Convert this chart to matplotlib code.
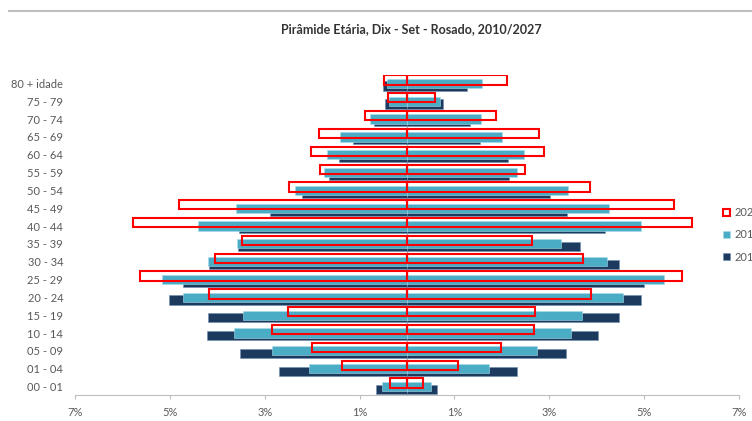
import numpy as np
import matplotlib.pyplot as plt
from matplotlib.lines import Line2D

plt.rcParams['font.family'] = ['Lato', 'DejaVu Sans']

# faixas etarias, de baixo para cima
faixas = ['00 - 01', '01 - 04', '05 - 09', '10 - 14', '15 - 19', '20 - 24',
          '25 - 29', '30 - 34', '35 - 39', '40 - 44', '45 - 49', '50 - 54',
          '55 - 59', '60 - 64', '65 - 69', '70 - 74', '75 - 79', '80 + idade']

# percentagens, lado esquerdo e lado direito
esq_2010 = [0.66, 2.70, 3.53, 4.22, 4.20, 5.02, 4.72, 4.17, 3.57, 3.54, 2.88, 2.22,
            1.64, 1.43, 1.13, 0.70, 0.46, 0.51]
dir_2010 = [0.63, 2.31, 3.36, 4.02, 4.46, 4.94, 5.00, 4.46, 3.64, 4.17, 3.38, 3.02,
            2.15, 2.13, 1.54, 1.33, 0.76, 1.26]
esq_2017 = [0.52, 2.07, 2.85, 3.64, 3.45, 4.72, 5.17, 4.19, 3.58, 4.40, 3.61, 2.37,
            1.74, 1.68, 1.41, 0.78, 0.37, 0.43]
dir_2017 = [0.50, 1.73, 2.75, 3.46, 3.69, 4.55, 5.41, 4.22, 3.25, 4.93, 4.25, 3.39,
            2.31, 2.46, 2.00, 1.57, 0.69, 1.58]
esq_2027 = [0.35, 1.38, 2.01, 2.85, 2.51, 4.17, 5.64, 4.04, 3.47, 5.78, 4.81, 2.48,
            1.84, 2.02, 1.86, 0.89, 0.41, 0.48]
dir_2027 = [0.34, 1.08, 1.99, 2.67, 2.69, 3.88, 5.80, 3.72, 2.64, 6.00, 5.64, 3.85,
            2.48, 2.89, 2.79, 1.88, 0.59, 2.11]

ticks_x = [-7, -5, -3, -1, 1, 3, 5, 7]
ticks_lbl = ['7%', '5%', '3%', '1%', '1%', '3%', '5%', '7%']

c_navy = '#1C3A5E'
c_teal = '#4BACC6'
c_red = '#FF0000'
c_txt = '#595959'

fig = plt.figure(figsize=(7.52, 4.21), dpi=100)
ax = fig.add_axes([75 / 752, 1 - 395.4 / 421, (739 - 75) / 752, (395.4 - 74.5) / 421])

y = np.arange(len(faixas))
h = 0.52

b10 = ax.barh(y - 0.15, -np.array(esq_2010), height=h, color=c_navy,
              edgecolor='#6f8fb0', linewidth=0.4, zorder=2, label='2010')
ax.barh(y - 0.15, dir_2010, height=h, color=c_navy,
        edgecolor='#6f8fb0', linewidth=0.4, zorder=2)
b17 = ax.barh(y, -np.array(esq_2017), height=h, color=c_teal,
              edgecolor='#a8dbe8', linewidth=0.4, zorder=3, label='2017')
ax.barh(y, dir_2017, height=h, color=c_teal,
        edgecolor='#a8dbe8', linewidth=0.4, zorder=3)
b27 = ax.barh(y + 0.19, -np.array(esq_2027), height=h, facecolor='none',
              edgecolor=c_red, linewidth=1.5, zorder=4, label='2027')
ax.barh(y + 0.19, dir_2027, height=h, facecolor='none',
        edgecolor=c_red, linewidth=1.5, zorder=4)

ax.axvline(0, color='#BFBFBF', linewidth=1, zorder=1)

ax.set_xlim(-7, 7)
ax.set_ylim(-0.5, len(faixas) - 0.5)
ax.set_xticks(ticks_x)
ax.set_xticklabels(ticks_lbl)
ax.set_yticks(y)
ax.set_yticklabels(faixas)
ax.tick_params(axis='y', length=0, pad=8.5, labelsize=8, labelcolor=c_txt)
ax.tick_params(axis='x', direction='out', length=3, color='#BFBFBF',
               pad=5.5, labelsize=8, labelcolor=c_txt)
for s in ['top', 'right', 'left']:
    ax.spines[s].set_visible(False)
ax.spines['bottom'].set_color('#BFBFBF')

fig.text(411 / 752, 1 - 29 / 421, 'Pirâmide Etária, Dix - Set - Rosado, 2010/2027',
         ha='center', va='center', fontsize=9, fontweight='bold', color='#333333')

# linha cinzenta no topo
fig.add_artist(Line2D([9 / 752, 1], [1 - 11 / 421, 1 - 11 / 421],
                      transform=fig.transFigure, color='#BFBFBF', linewidth=1.5))

leg = fig.legend(handles=[b27, b17, b10], labels=['2027', '2017', '2010'],
                 loc='center left', bbox_to_anchor=(719 / 752, 1 - 235 / 421),
                 frameon=False, fontsize=8, handlelength=0.6, handleheight=0.6,
                 handletextpad=0.4, labelspacing=1.0, borderaxespad=0)
for t in leg.get_texts():
    t.set_color(c_txt)

fig.savefig('out.png', dpi=100)
